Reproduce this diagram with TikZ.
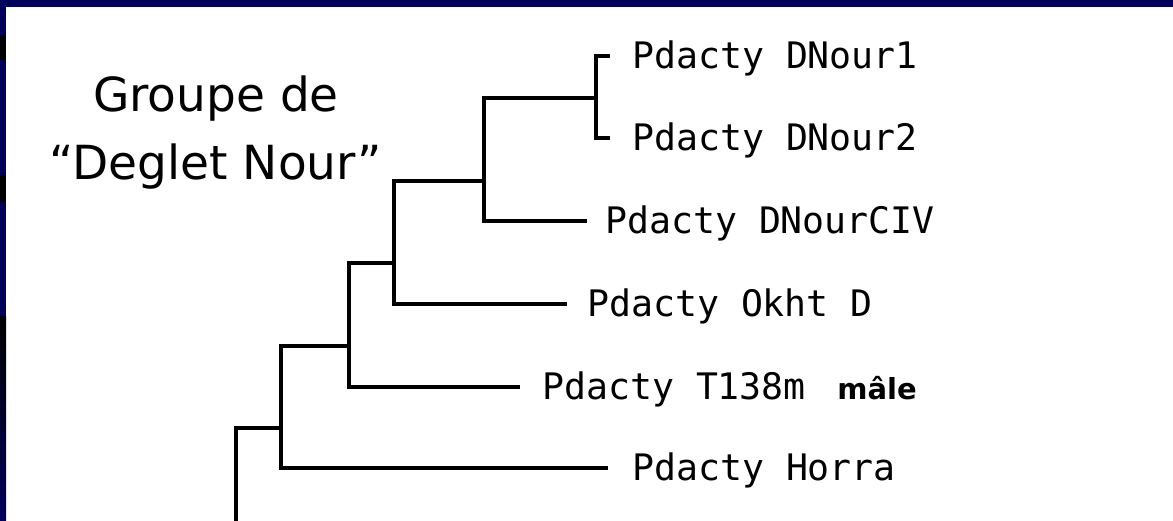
\documentclass[tikz,border=0pt]{standalone}
\usepackage{fontspec}
\setmainfont{DejaVu Sans}
\newfontfamily\treefont{DejaVu Sans Mono}
\usetikzlibrary{positioning,calc}
\definecolor{slidenavy}{RGB}{0,0,92}

\begin{document}
\begin{tikzpicture}[x=1pt,y=-1pt,
      branch/.style={line width=3.5pt,line join=miter},
      leaf/.style={font=\treefont\fontsize{36.5pt}{40pt}\selectfont,inner sep=0pt,text height=25pt,text depth=0pt},
      grouplabel/.style={font=\fontsize{47pt}{68pt}\selectfont,align=center,inner sep=0pt},
      sexlabel/.style={font=\bfseries\fontsize{29pt}{30pt}\selectfont,inner sep=0pt,anchor=base west}]

      \useasboundingbox (0,0) rectangle (1173,521);
      \fill[white] (0,0) rectangle (1173,521);
      \fill[slidenavy] (0,0) rectangle (1173,7);
      \fill[slidenavy] (0,0) rectangle (6,521);
      \fill[black] (0,35) rectangle (6,60);
      \fill[black] (0,175) rectangle (6,202);
      \shade[top color=black,bottom color=slidenavy] (0,317) rectangle (6,521);

      \node[grouplabel] (grp) at (216,133) {Groupe de\\“Deglet Nour”};

      % inner nodes of the tree
      \coordinate (nF) at (236,521);
      \coordinate (nE) at (281,428);
      \coordinate (nD) at (349,346);
      \coordinate (nC) at (394,263);
      \coordinate (nB) at (484,181);
      \coordinate (nA) at (596,98);

      % ends of the leaf branches
      \coordinate (eDN1) at (610,56);
      \coordinate (eDN2) at (610,138);
      \coordinate (eCIV) at (587,221);
      \coordinate (eOkht) at (567,304);
      \coordinate (eT138) at (520,387);
      \coordinate (eHorra) at (608,468);

      \node[leaf,right = 22pt of eDN1] (lDN1) {Pdacty DNour1};
      \node[leaf,right = 22pt of eDN2] (lDN2) {Pdacty DNour2};
      \node[leaf,right = 18pt of eCIV] (lCIV) {Pdacty DNourCIV};
      \node[leaf,right = 20pt of eOkht] (lOkht) {Pdacty Okht D};
      \node[leaf,right = 22pt of eT138] (lT138) {Pdacty T138m};
      \node[leaf,right = 24pt of eHorra] (lHorra) {Pdacty Horra};
      \node[sexlabel] (sex) at ([xshift=31pt]lT138.base east) {mâle};

      \draw[branch] (nA) |- (eDN1);
      \draw[branch] (nA) |- (eDN2);
      \draw[branch] (nB) |- (nA);
      \draw[branch] (nB) |- (eCIV);
      \draw[branch] (nC) |- (nB);
      \draw[branch] (nC) |- (eOkht);
      \draw[branch] (nD) |- (nC);
      \draw[branch] (nD) |- (eT138);
      \draw[branch] (nE) |- (nD);
      \draw[branch] (nE) |- (eHorra);
      \draw[branch] (nF) |- (nE);

\end{tikzpicture}
\end{document}
